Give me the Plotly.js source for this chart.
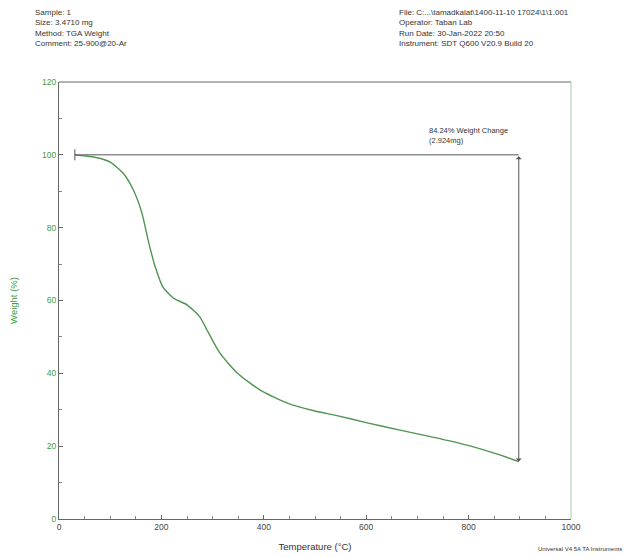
<!DOCTYPE html>
<html>
<head>
<meta charset="utf-8">
<script src="https://cdn.plot.ly/plotly-3.0.1.min.js"></script>
<style>html,body{margin:0;padding:0;background:#fff;}#chart{width:625px;height:557px;}</style>
</head>
<body>
<div id="chart"></div>
<script>
var temperature = [31, 51, 75, 100, 125, 145, 162, 174, 188, 203, 223, 250, 275, 289, 314, 348, 393, 445, 496, 543, 602, 666, 730, 797, 861, 898];
var weight      = [100, 99.7, 99.2, 98.0, 95.0, 90.4, 84.0, 76.6, 69.2, 63.7, 60.7, 58.8, 55.5, 51.9, 45.6, 40.1, 35.4, 31.9, 29.8, 28.4, 26.4, 24.4, 22.5, 20.3, 17.6, 15.76];
var xTicks = [0, 200, 400, 600, 800, 1000];
var yTicks = [0, 20, 40, 60, 80, 100, 120];
var headerLeft = ["Sample: 1", "Size: 3.4710 mg", "Method: TGA Weight", "Comment: 25-900@20-Ar"];
var headerRight = ["File: C:...\\tamadkalat\\1400-11-10 17024\\1\\1.001", "Operator: Taban Lab", "Run Date: 30-Jan-2022 20:50", "Instrument: SDT Q600 V20.9 Build 20"];
var changeLabel = ["84.24% Weight Change", "(2.924mg)"];

var green = "#3f9a3f";
var tStart = temperature[0], tEnd = temperature[temperature.length - 1];
var wStart = weight[0], wEnd = weight[weight.length - 1];

var trace = {
  x: temperature, y: weight, type: "scatter", mode: "lines",
  line: {color: "#4f9450", width: 1.4, shape: "spline", smoothing: 0.6},
  hoverinfo: "x+y"
};

var font = {family: "Liberation Sans, Arial, sans-serif", size: 8, color: "#333"};

var annotations = [
  {xref: "paper", yref: "paper", x: -0.05, y: 1.175, xanchor: "left", yanchor: "top", align: "left",
   text: headerLeft.join("<br>"), showarrow: false, font: font},
  {xref: "paper", yref: "paper", x: 0.66, y: 1.175, xanchor: "left", yanchor: "top", align: "left",
   text: headerRight.join("<br>"), showarrow: false, font: font},
  {xref: "x", yref: "y", x: 718, y: 108.5, xanchor: "left", yanchor: "top", align: "left",
   text: changeLabel.join("<br>"), showarrow: false, font: {family: font.family, size: 7.5, color: "#333"}},
  {xref: "x", yref: "y", axref: "x", ayref: "y", x: tEnd, y: wEnd, ax: tEnd, ay: wStart,
   text: "", showarrow: true, arrowhead: 1, startarrowhead: 1, arrowside: "end+start",
   arrowsize: 1, arrowwidth: 1, arrowcolor: "#555"},
  {xref: "paper", yref: "paper", x: 1.103, y: -0.058, xanchor: "right", yanchor: "top",
   text: "Universal V4.5A TA Instruments", showarrow: false, font: {family: font.family, size: 6, color: "#333"}}
];

var shapes = [
  {type: "line", xref: "x", yref: "y", x0: tStart, x1: tEnd, y0: wStart, y1: wStart, line: {color: "#555", width: 1}},
  {type: "line", xref: "x", yref: "y", x0: tStart, x1: tStart, y0: wStart - 1.5, y1: wStart + 1.5, line: {color: "#555", width: 1}},
  {type: "line", xref: "paper", yref: "paper", x0: 0, x1: 1, y0: 1, y1: 1, line: {color: "#666", width: 1}},
  {type: "line", xref: "paper", yref: "paper", x0: 1, x1: 1, y0: 0, y1: 1, line: {color: "#a8cfa8", width: 1}}
];

var layout = {
  width: 625, height: 557,
  margin: {l: 59, r: 54, t: 82, b: 38},
  paper_bgcolor: "#fff", plot_bgcolor: "#fff",
  showlegend: false,
  font: font,
  xaxis: {
    range: [0, 1000], tickvals: xTicks, ticktext: xTicks.map(String),
    showgrid: false, zeroline: false, showline: true, linecolor: "#666", linewidth: 1,
    ticks: "inside", ticklen: 4, tickcolor: "#666",
    minor: {dtick: 50, ticks: "inside", ticklen: 3, tickcolor: "#888"},
    tickfont: {family: font.family, size: 8.5, color: "#444"},
    title: {text: "Temperature (°C)", font: {family: font.family, size: 9.5, color: "#333"}, standoff: 12}
  },
  yaxis: {
    range: [0, 120], tickvals: yTicks, ticktext: yTicks.map(String),
    showgrid: false, zeroline: false, showline: true, linecolor: "#666", linewidth: 1,
    ticks: "inside", ticklen: 4, tickcolor: "#666",
    minor: {dtick: 10, ticks: "inside", ticklen: 3, tickcolor: "#888"},
    tickfont: {family: font.family, size: 8.5, color: green},
    title: {text: "Weight (%)", font: {family: font.family, size: 9.5, color: green}, standoff: 22}
  },
  annotations: annotations,
  shapes: shapes
};

Plotly.newPlot("chart", [trace], layout, {displayModeBar: false, staticPlot: true});
</script>
</body>
</html>
